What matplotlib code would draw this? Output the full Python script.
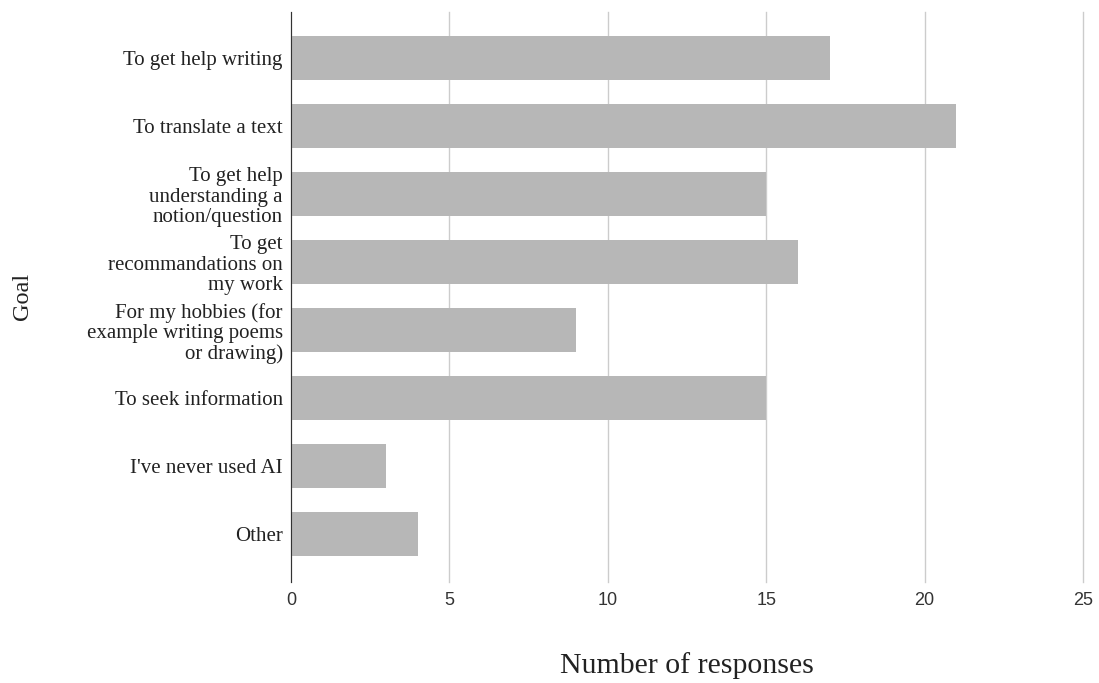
import matplotlib.pyplot as plt

goals = [
    "To get help writing",
    "To translate a text",
    "To get help\nunderstanding a\nnotion/question",
    "To get\nrecommandations on\nmy work",
    "For my hobbies (for\nexample writing poems\nor drawing)",
    "To seek information",
    "I've never used AI",
    "Other",
]
responses = [17, 21, 15, 16, 9, 15, 3, 4]
xticks = [0, 5, 10, 15, 20, 25]

fig = plt.figure(figsize=(10.99, 6.83), dpi=100)
ax = fig.add_axes([0.2648, 0.148, 0.7207, 0.835])

ax.barh(range(len(goals)), responses, height=0.65, color="#b7b7b7", zorder=2)

ax.set_ylim(7.7, -0.68)
ax.set_xlim(0, 25)
ax.set_xticks(xticks)
ax.set_xticklabels([str(t) for t in xticks], fontfamily="Liberation Sans", fontsize=13,
                   color="#333333")
ax.set_yticks(range(len(goals)))
ax.set_yticklabels(goals, fontfamily="Liberation Serif", fontsize=15, color="#222222",
                   linespacing=1.08)
ax.tick_params(axis="both", length=0)
ax.tick_params(axis="x", pad=7)
ax.tick_params(axis="y", pad=6)

ax.grid(axis="x", color="#cccccc", linewidth=1, zorder=0)
for gl in ax.get_xgridlines():
    gl.set_clip_on(False)
ax.set_axisbelow(True)
for s in ["top", "right", "bottom"]:
    ax.spines[s].set_visible(False)
ax.spines["left"].set_color("#333333")
ax.spines["left"].set_zorder(3)

ax.set_xlabel("Number of responses", fontfamily="Liberation Serif", fontsize=21.5,
              color="#222222")
ax.xaxis.set_label_coords(0.5, -0.123)
ax.set_ylabel("Goal", fontfamily="Liberation Serif", fontsize=17.5, color="#222222")
ax.yaxis.set_label_coords(-0.326, 0.5)

fig.savefig("out.png", dpi=100)
